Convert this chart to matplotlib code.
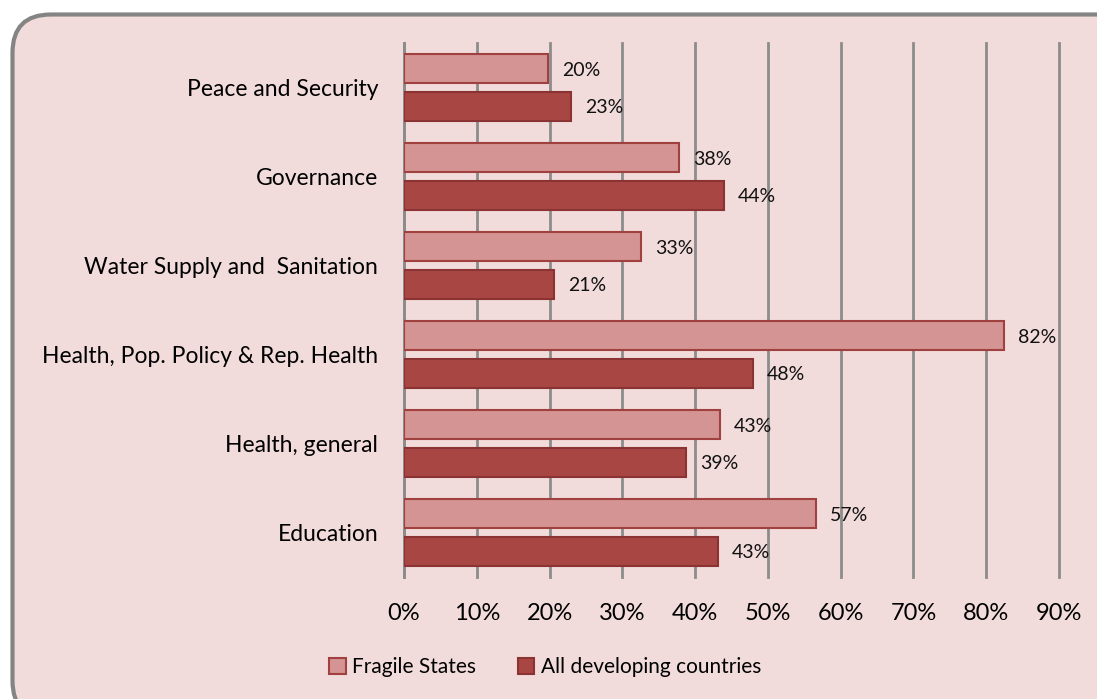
import numpy as np
import matplotlib.pyplot as plt
from matplotlib.patches import FancyBboxPatch, Patch
from matplotlib.ticker import FuncFormatter

plt.rcParams['font.family'] = ['Lato', 'DejaVu Sans']

# sectors listed top to bottom as in the chart
sectors = ['Peace and Security', 'Governance', 'Water Supply and  Sanitation',
           'Health, Pop. Policy & Rep. Health', 'Health, general', 'Education']
fragile = [19.8, 37.8, 32.6, 82.5, 43.4, 56.6]
all_dev = [23.0, 44.0, 20.6, 48.0, 38.8, 43.2]
fragile_labels = ['20%', '38%', '33%', '82%', '43%', '57%']
all_dev_labels = ['23%', '44%', '21%', '48%', '39%', '43%']
xticks = [0, 10, 20, 30, 40, 50, 60, 70, 80, 90]

W, H = 1097, 699
fig = plt.figure(figsize=(W / 100, H / 100), dpi=100)
fig.patch.set_facecolor('white')

# rounded chart-area frame
frame = FancyBboxPatch((12.5 / W, -20 / H), (W + 30) / W, (H + 20 - 14.5) / H,
                       boxstyle='round,pad=0,rounding_size=0.035',
                       transform=fig.transFigure, facecolor='#F2DCDB',
                       edgecolor='#848484', linewidth=3, zorder=-10,
                       mutation_aspect=W / H)
fig.patches.append(frame)

ax = fig.add_axes([404 / W, 1 - 577 / H, (1059 - 404) / W, (577 - 43) / H])
ax.set_facecolor('none')

y = np.arange(len(sectors))
off = 0.21
h = 0.33
frag_c, frag_e = '#D49493', '#A0403F'
all_c, all_e = '#A84644', '#8B3332'

ax.barh(y - off, fragile, height=h, color=frag_c, edgecolor=frag_e,
        linewidth=1.5, zorder=3)
ax.barh(y + off, all_dev, height=h, color=all_c, edgecolor=all_e,
        linewidth=1.5, zorder=3)

for yi, v, lab in zip(y - off, fragile, fragile_labels):
    ax.text(v + 1.9, yi + 0.02, lab, va='center', ha='left', fontsize=14, color='#111111')
for yi, v, lab in zip(y + off, all_dev, all_dev_labels):
    ax.text(v + 1.9, yi + 0.02, lab, va='center', ha='left', fontsize=14, color='#111111')

ax.set_xlim(0, 90)
ax.set_ylim(len(sectors) - 0.5, -0.5)
ax.set_xticks(xticks)
ax.xaxis.set_major_formatter(FuncFormatter(lambda v, p: f'{int(v)}%'))
ax.set_yticks(y)
ax.set_yticklabels(sectors)
ax.tick_params(axis='y', length=0, pad=18.5, labelsize=16.5)
ax.tick_params(axis='x', length=0, pad=19, labelsize=17)
ax.grid(axis='x', color='#8C8C8C', linewidth=2, zorder=1)
for gl in ax.get_xgridlines():
    gl.set_clip_on(False)
for s in ['top', 'right', 'bottom']:
    ax.spines[s].set_visible(False)
ax.spines['left'].set_color('#8C8C8C')
ax.spines['left'].set_linewidth(2)

handles = [Patch(facecolor=frag_c, edgecolor=frag_e, linewidth=1.5, label='Fragile States'),
           Patch(facecolor=all_c, edgecolor=all_e, linewidth=1.5, label='All developing countries')]
fig.legend(handles=handles, loc='center', bbox_to_anchor=(545 / W, 1 - 667 / H),
           ncol=2, frameon=False, fontsize=15, handlelength=0.8, handleheight=0.8,
           handletextpad=0.3, columnspacing=2.0)

fig.savefig('out.png', dpi=100, facecolor='white')
